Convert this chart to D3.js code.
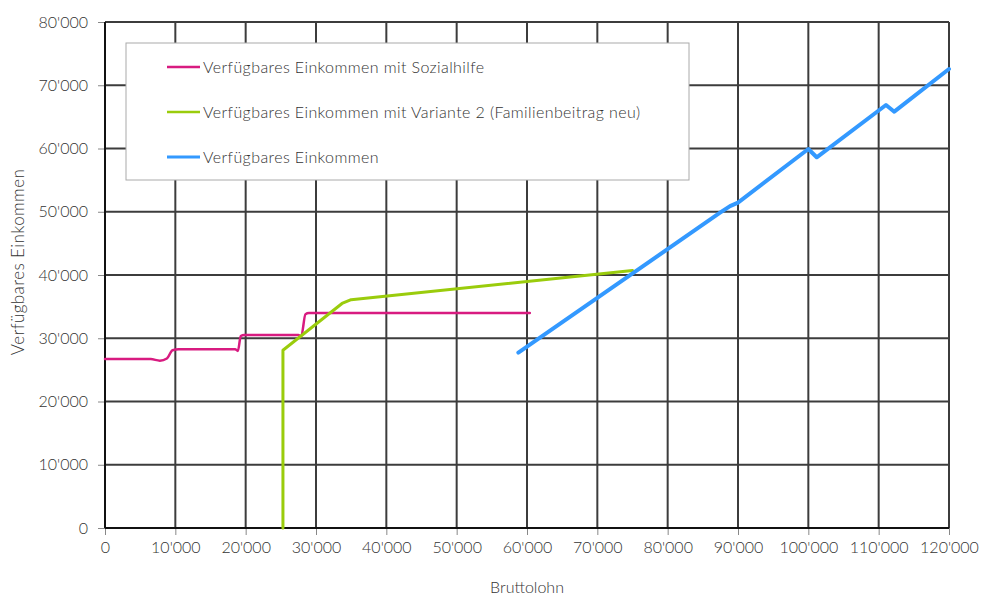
<!DOCTYPE html>
<html>
<head>
<meta charset="utf-8">
<script src="https://cdn.jsdelivr.net/npm/d3@7"></script>
<style>
  html, body { margin: 0; padding: 0; background: #fff; }
  svg text { font-family: Lato, "Open Sans", sans-serif; font-weight: 300; fill: #333; }
</style>
</head>
<body>
<svg id="chart" width="981" height="597"></svg>
<script>
// Verfügbares Einkommen nach Bruttolohn (CHF)
const xTicks = [0, 10000, 20000, 30000, 40000, 50000, 60000, 70000, 80000, 90000, 100000, 110000, 120000];
const yTicks = [0, 10000, 20000, 30000, 40000, 50000, 60000, 70000, 80000];

const seriesNames = [
  "Verfügbares Einkommen mit Sozialhilfe",
  "Verfügbares Einkommen mit Variante 2 (Familienbeitrag neu)",
  "Verfügbares Einkommen"
];

// Bruttolohn / verfügbares Einkommen
const sozialhilfeX = [0, 6500, 7800, 8800, 9600, 10500, 18500, 18900, 19300, 19800, 27500, 27900, 28500, 29000, 60400];
const sozialhilfeY = [26700, 26700, 26450, 26800, 28100, 28250, 28250, 28000, 30350, 30520, 30500, 30300, 33800, 33980, 33980];

const variante2X = [25300, 25300, 33700, 35000, 75000];
const variante2Y = [0, 28100, 35500, 36100, 40700];

const einkommenX = [58770, 87450, 88870, 90000, 100000, 101190, 111040, 112220, 120000];
const einkommenY = [27720, 49850, 50900, 51450, 59920, 58610, 66880, 65820, 72570];

const colors = ["#d81b80", "#9acc0c", "#3399ff"];
const widths = [2.5, 3, 4];

const W = 981, H = 597;
const margin = { top: 22, right: 32, bottom: 69, left: 105 };
const svg = d3.select("#chart");

const x = d3.scaleLinear().domain([0, 120000]).range([margin.left, W - margin.right]);
const y = d3.scaleLinear().domain([0, 80000]).range([H - margin.bottom, margin.top]);

const locale = d3.formatLocale({ decimal: ".", thousands: "'", grouping: [3], currency: ["", ""] });
const fmt = locale.format(",d");

// grid
const grid = svg.append("g");
grid.selectAll("line.h").data(yTicks.slice(1)).join("line")
  .attr("x1", x(0)).attr("x2", x(120000))
  .attr("y1", d => y(d)).attr("y2", d => y(d))
  .attr("stroke", "#3c3c3c").attr("stroke-width", 2);
grid.selectAll("line.v").data(xTicks.slice(1)).join("line")
  .attr("x1", d => x(d)).attr("x2", d => x(d))
  .attr("y1", y(0)).attr("y2", y(80000))
  .attr("stroke", "#3c3c3c").attr("stroke-width", 2);

// axes
const xAxis = d3.axisBottom(x).tickValues(xTicks).tickFormat(fmt).tickSize(7).tickPadding(7);
const yAxis = d3.axisLeft(y).tickValues(yTicks).tickFormat(fmt).tickSize(7).tickPadding(10);

const gx = svg.append("g").attr("transform", `translate(0,${y(0)})`).call(xAxis);
const gy = svg.append("g").attr("transform", `translate(${x(0)},0)`).call(yAxis);
[gx, gy].forEach(g => {
  g.select(".domain").remove();
  g.selectAll(".tick line").attr("stroke", "#888").attr("stroke-width", 1);
  g.selectAll(".tick text").style("font-size", "16px").style("font-family", "Lato, sans-serif").style("font-weight", 300).attr("fill", "#333");
});
svg.append("line").attr("x1", x(0)).attr("x2", x(0)).attr("y1", y(0)).attr("y2", y(80000))
  .attr("stroke", "#111").attr("stroke-width", 2);
svg.append("line").attr("x1", x(0)).attr("x2", x(120000)).attr("y1", y(0)).attr("y2", y(0))
  .attr("stroke", "#111").attr("stroke-width", 2);

// legend box
const lg = svg.append("g");
lg.append("rect").attr("x", 126).attr("y", 43).attr("width", 563).attr("height", 137)
  .attr("fill", "#fff").attr("stroke", "#aaa").attr("stroke-width", 1);

// series
const series = [
  { xs: sozialhilfeX, ys: sozialhilfeY, curve: d3.curveMonotoneX },
  { xs: variante2X, ys: variante2Y, curve: d3.curveLinear },
  { xs: einkommenX, ys: einkommenY, curve: d3.curveLinear }
];
series.forEach((s, i) => {
  const pts = s.xs.map((v, k) => [v, s.ys[k]]);
  svg.append("path")
    .attr("d", d3.line().x(d => x(d[0])).y(d => y(d[1])).curve(s.curve)(pts))
    .attr("fill", "none").attr("stroke", colors[i]).attr("stroke-width", widths[i])
    .attr("stroke-linejoin", "round").attr("stroke-linecap", "round");
});

const rowY = [67, 112, 157];
seriesNames.forEach((name, i) => {
  lg.append("line").attr("x1", 167).attr("x2", 200).attr("y1", rowY[i]).attr("y2", rowY[i])
    .attr("stroke", colors[i]).attr("stroke-width", i === 2 ? 3 : 2.5);
  lg.append("text").attr("x", 203).attr("y", rowY[i]).attr("dy", "0.35em")
    .style("font-size", "16px").style("letter-spacing", "0.4px").text(name);
});

// axis titles
svg.append("text").attr("x", (x(0) + x(120000)) / 2).attr("y", 593)
  .attr("text-anchor", "middle").style("font-size", "16px").text("Bruttolohn");
svg.append("text").attr("transform", "translate(24,262) rotate(-90)")
  .attr("text-anchor", "middle").style("font-size", "17px").style("letter-spacing", "0.4px")
  .text("Verfügbares Einkommen");
</script>
</body>
</html>
